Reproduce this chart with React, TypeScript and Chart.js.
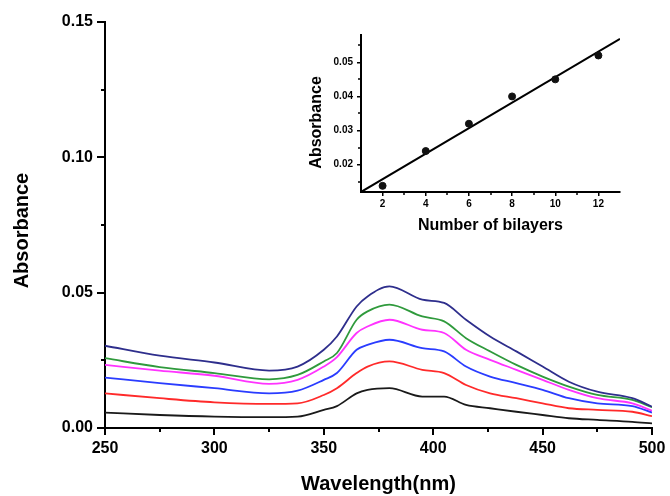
import React, { useEffect, useRef } from "react";
import { Chart, registerables } from "chart.js";

Chart.register(...registerables);

// ---- Main spectra data ----
const wavelengths = [250, 275, 300, 325, 338, 350, 356, 365, 370, 380, 395, 405, 415, 426, 438, 450, 462, 475, 491, 500];
const bilayer12 = [0.0304, 0.0267, 0.0242, 0.0212, 0.0227, 0.0289, 0.0338, 0.0449, 0.0486, 0.0523, 0.0474, 0.0462, 0.040, 0.0338, 0.0283, 0.0227, 0.0171, 0.0134, 0.011, 0.0079];
const bilayer10 = [0.0258, 0.0225, 0.0203, 0.018, 0.0196, 0.0246, 0.0277, 0.040, 0.0431, 0.0456, 0.0412, 0.0394, 0.0332, 0.0283, 0.0233, 0.019, 0.0153, 0.0122, 0.0104, 0.0077];
const bilayer8 = [0.0233, 0.0212, 0.0193, 0.0163, 0.0178, 0.0227, 0.0262, 0.0351, 0.0375, 0.040, 0.0363, 0.0351, 0.0289, 0.0252, 0.0215, 0.0178, 0.0141, 0.011, 0.0091, 0.0064];
const bilayer6 = [0.0186, 0.0166, 0.0147, 0.0128, 0.0138, 0.0178, 0.0203, 0.0289, 0.0307, 0.0326, 0.0295, 0.0283, 0.0227, 0.019, 0.0166, 0.0141, 0.011, 0.0091, 0.0081, 0.0057];
const bilayer4 = [0.0128, 0.011, 0.0095, 0.0089, 0.0091, 0.0122, 0.0147, 0.0203, 0.0227, 0.0246, 0.0215, 0.0203, 0.0159, 0.0128, 0.011, 0.0091, 0.0073, 0.0067, 0.006, 0.0044];
const bilayer2 = [0.0057, 0.0048, 0.0042, 0.004, 0.0042, 0.0067, 0.0081, 0.0128, 0.0141, 0.0147, 0.0116, 0.0116, 0.0085, 0.0073, 0.006, 0.0048, 0.0036, 0.003, 0.0023, 0.0017];
const seriesColors = ["#2e2e8c", "#2f9a3c", "#ff33ff", "#2a3cff", "#ff2a2a", "#1a1a1a"];
const xMajorTicks = [250, 300, 350, 400, 450, 500];
const xMinorTicks = [275, 325, 375, 425, 475];
const yMinorTicks = [0.025, 0.075, 0.125];

// ---- Inset data ----
const bilayerCounts = [2, 4, 6, 8, 10, 12];
const insetAbsorbance = [0.0138, 0.024, 0.032, 0.040, 0.045, 0.052];
const fitX = [1, 13];
const fitY = [0.012, 0.0569];
const insetXTicks = [2, 4, 6, 8, 10, 12];
const insetXMinor = [3, 5, 7, 9, 11];
const insetYTicks = [0.02, 0.03, 0.04, 0.05];
const insetYMinor = [0.015, 0.025, 0.035, 0.045, 0.055];

const FONT = "'Liberation Sans', Arial, sans-serif";

const minorTicksPlugin = {
  id: "minorTicks",
  afterDraw(chart: any, _args: any, opts: any) {
    const ctx = chart.ctx;
    const xs = chart.scales.x;
    const ys = chart.scales.y;
    ctx.save();
    ctx.strokeStyle = "#000";
    ctx.lineWidth = opts.width || 1.5;
    ctx.beginPath();
    for (const v of opts.xMinor || []) {
      const px = Math.round(xs.getPixelForValue(v));
      ctx.moveTo(px, xs.top);
      ctx.lineTo(px, xs.top + opts.len);
    }
    for (const v of opts.yMinor || []) {
      const py = Math.round(ys.getPixelForValue(v));
      ctx.moveTo(ys.right, py);
      ctx.lineTo(ys.right - opts.len, py);
    }
    ctx.stroke();
    ctx.restore();
  },
};

function MainChart() {
  const ref = useRef<HTMLCanvasElement>(null);
  useEffect(() => {
    const all = [bilayer12, bilayer10, bilayer8, bilayer6, bilayer4, bilayer2];
    const chart = new Chart(ref.current!, {
      type: "line",
      data: {
        datasets: all.map((arr, i) => ({
          data: wavelengths.map((w, j) => ({ x: w, y: arr[j] })),
          borderColor: seriesColors[i],
          borderWidth: 1.8,
          pointRadius: 0,
          fill: false,
          cubicInterpolationMode: "monotone" as const,
        })),
      },
      options: {
        animation: false,
        responsive: false,
        maintainAspectRatio: false,
        layout: { padding: { top: 22, right: 18, left: 0, bottom: 0 } },
        plugins: {
          legend: { display: false },
          tooltip: { enabled: false },
          minorTicks: { xMinor: xMinorTicks, yMinor: yMinorTicks, len: 4, width: 2 },
        } as any,
        scales: {
          x: {
            type: "linear",
            min: 250,
            max: 500,
            afterFit: (s: any) => { s.height = 68; },
            afterBuildTicks: (s: any) => { s.ticks = xMajorTicks.map((v) => ({ value: v })); },
            ticks: { font: { family: FONT, size: 16, weight: "bold" }, color: "#000", padding: 4, maxRotation: 0 },
            grid: { display: true, drawOnChartArea: false, drawTicks: true, tickLength: 7, color: "#000", lineWidth: 2 },
            border: { display: true, color: "#000", width: 2 },
            title: { display: true, text: "Wavelength(nm)", color: "#000", font: { family: FONT, size: 20, weight: "bold" }, padding: { top: 0, bottom: 0 } },
          },
          y: {
            type: "linear",
            min: 0,
            max: 0.15,
            afterFit: (s: any) => { s.width = 105; },
            ticks: { stepSize: 0.05, callback: (v: any) => Number(v).toFixed(2), font: { family: FONT, size: 16, weight: "bold" }, color: "#000", padding: 4 },
            grid: { display: true, drawOnChartArea: false, drawTicks: true, tickLength: 8, color: "#000", lineWidth: 2 },
            border: { display: true, color: "#000", width: 2 },
            title: { display: true, text: "Absorbance  ", color: "#000", font: { family: FONT, size: 20, weight: "bold" }, padding: { top: 10, bottom: 0 } },
          },
        },
      },
      plugins: [minorTicksPlugin],
    });
    return () => chart.destroy();
  }, []);
  return <canvas ref={ref} width={670} height={496} style={{ position: "absolute", left: 0, top: 0 }} />;
}

function InsetChart() {
  const ref = useRef<HTMLCanvasElement>(null);
  useEffect(() => {
    const chart = new Chart(ref.current!, {
      type: "scatter",
      data: {
        datasets: [
          {
            type: "scatter",
            data: bilayerCounts.map((n, i) => ({ x: n, y: insetAbsorbance[i] })),
            backgroundColor: "#111",
            borderColor: "#111",
            pointRadius: 3.5,
          },
          {
            type: "line",
            data: fitX.map((x, i) => ({ x, y: fitY[i] })),
            borderColor: "#000",
            borderWidth: 2,
            pointRadius: 0,
            fill: false,
          } as any,
        ],
      },
      options: {
        animation: false,
        responsive: false,
        maintainAspectRatio: false,
        layout: { padding: { top: 10, right: 10, left: 0, bottom: 0 } },
        plugins: {
          legend: { display: false },
          tooltip: { enabled: false },
          minorTicks: { xMinor: insetXMinor, yMinor: insetYMinor, len: 3, width: 1.5 },
        } as any,
        scales: {
          x: {
            type: "linear",
            min: 1,
            max: 13,
            afterFit: (s: any) => { s.height = 48; },
            afterBuildTicks: (s: any) => { s.ticks = insetXTicks.map((v) => ({ value: v })); },
            ticks: { font: { family: FONT, size: 10, weight: "bold" }, color: "#000", padding: 2, maxRotation: 0 },
            grid: { display: true, drawOnChartArea: false, drawTicks: true, tickLength: 4, color: "#000", lineWidth: 1.5 },
            border: { display: true, color: "#000", width: 2 },
            title: { display: true, text: "Number of bilayers", color: "#000", font: { family: FONT, size: 16, weight: "bold" }, padding: { top: 0, bottom: 5 } },
          },
          y: {
            type: "linear",
            min: 0.012,
            max: 0.058,
            afterFit: (s: any) => { s.width = 61; },
            afterBuildTicks: (s: any) => { s.ticks = insetYTicks.map((v) => ({ value: v })); },
            ticks: { callback: (v: any) => Number(v).toFixed(2), font: { family: FONT, size: 10, weight: "bold" }, color: "#000", padding: 4 },
            grid: { display: true, drawOnChartArea: false, drawTicks: true, tickLength: 4, color: "#000", lineWidth: 1.5 },
            border: { display: true, color: "#000", width: 2 },
            title: { display: true, text: "Absorbance    ", color: "#000", font: { family: FONT, size: 16, weight: "bold" }, padding: { top: 7, bottom: 0 } },
          },
        },
      },
      plugins: [minorTicksPlugin],
    });
    return () => chart.destroy();
  }, []);
  return <canvas ref={ref} width={330} height={215} style={{ position: "absolute", left: 300, top: 25 }} />;
}

export default function App() {
  return (
    <div style={{ position: "fixed", left: 0, top: 0, width: 670, height: 496, background: "#fff", overflow: "hidden" }}>
      <MainChart />
      <InsetChart />
    </div>
  );
}
